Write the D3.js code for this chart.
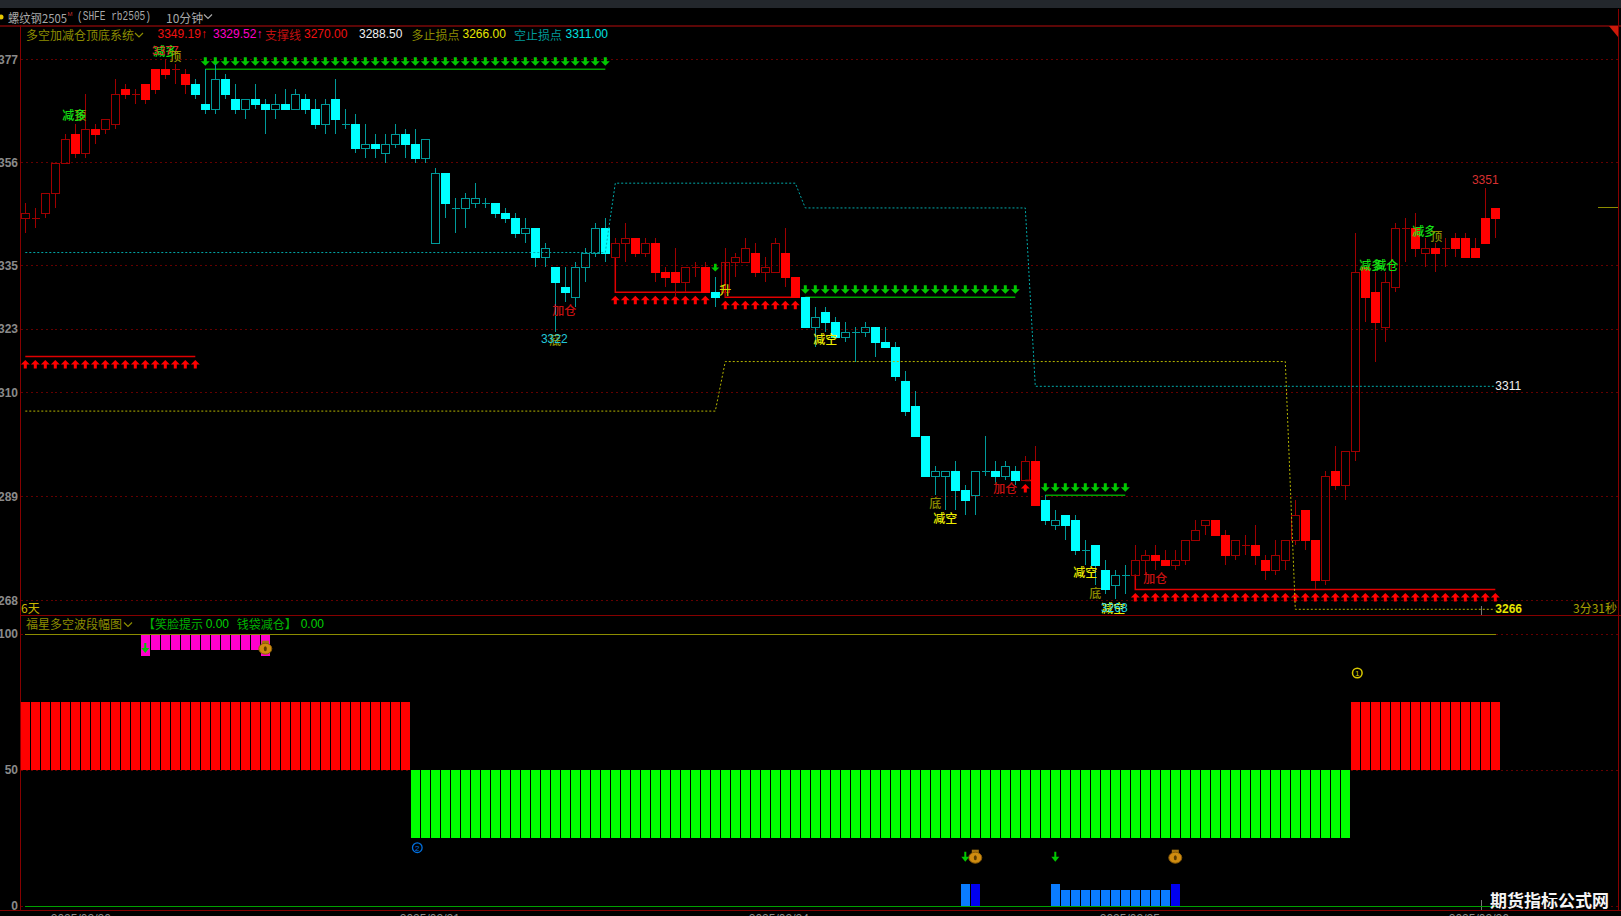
<!DOCTYPE html>
<html lang="zh">
<head>
<meta charset="utf-8">
<title>螺纹钢2505 10分钟</title>
<script src="https://cdn.jsdelivr.net/npm/d3@7/dist/d3.min.js"></script>
<style>
html,body{margin:0;padding:0;background:#000;overflow:hidden}
svg{display:block}
text{font-family:"Noto Sans CJK SC","Liberation Sans",sans-serif}
.num{font-family:"Liberation Sans",Arial,sans-serif}
</style>
</head>
<body>
<svg id="c" width="1621" height="916"></svg>
<script>
// ---------- candle data (10-minute bars) ----------
const opens=[3345,3345,3346,3350,3356,3362,3358,3363,3363,3364,3371,3370,3372,3375,3375,3375,3374,3372,3368,3367,
3373,3369,3367,3369,3368,3367,3368,3367,3369,3367,3364,3369,3364,3364,3359,3360,3358,3360,3362,3360,
3357,3340,3354,3347,3347,3348,3348,3348,3346,3345,3342,3343,3337,3335,3331,3329,3335,3338,3343,3337,
3340,3341,3338,3340,3334,3334,3332,3335,3335,3330,3330,3336,3336,3338,3334,3334,3338,3333,3329,3323,
3326,3324,3321,3322,3322,3323,3320,3319,3312,3307,3301,3293,3293,3294,3290,3289,3294,3294,3293,3294,
3292,3296,3288,3283,3285,3284,3278,3279,3274,3271,3273,3273,3276,3277,3276,3275,3276,3280,3283,3284,
3281,3277,3279,3279,3276,3274,3276,3280,3286,3280,3272,3294,3291,3298,3335,3330,3323,3331,3343,3343,
3338,3339,3339,3341,3341,3339,3345,3347];
const highs=[3348,3347,3350,3356,3362,3364,3370,3364,3365,3373,3372,3371,3372,3375,3377,3376,3375,3373,3375,3376,
3374,3372,3369,3372,3369,3370,3371,3371,3370,3369,3369,3373,3367,3366,3364,3362,3362,3364,3363,3363,
3361,3355,3354,3349,3350,3352,3349,3348,3347,3346,3345,3343,3340,3335,3335,3336,3339,3344,3345,3341,
3344,3341,3341,3341,3335,3339,3335,3336,3336,3333,3339,3338,3341,3340,3337,3341,3343,3333,3329,3327,
3327,3325,3324,3323,3324,3323,3323,3320,3314,3310,3301,3295,3294,3296,3291,3294,3301,3296,3296,3295,
3297,3299,3289,3286,3285,3285,3280,3279,3276,3274,3275,3279,3278,3279,3278,3278,3280,3284,3284,3284,
3282,3280,3281,3283,3277,3280,3280,3288,3286,3280,3294,3299,3298,3342,3335,3334,3334,3344,3345,3346,
3341,3340,3341,3342,3342,3341,3351,3347];
const lows=[3342,3343,3345,3347,3356,3357,3357,3360,3362,3363,3369,3368,3368,3370,3373,3372,3370,3369,3366,3366,
3369,3366,3365,3367,3362,3365,3367,3367,3366,3363,3362,3362,3363,3358,3357,3357,3356,3359,3357,3356,
3356,3340,3345,3342,3343,3347,3347,3345,3344,3341,3340,3335,3335,3322,3328,3327,3332,3337,3336,3337,
3336,3337,3337,3332,3331,3329,3330,3333,3330,3327,3329,3333,3336,3333,3332,3334,3331,3329,3323,3319,
3322,3321,3320,3316,3321,3317,3319,3312,3305,3301,3293,3289,3286,3286,3285,3285,3293,3291,3292,3291,
3292,3287,3283,3282,3280,3277,3275,3271,3269,3268,3269,3273,3273,3274,3275,3274,3275,3280,3281,3281,
3275,3276,3277,3275,3272,3273,3274,3279,3278,3270,3271,3290,3288,3296,3324,3316,3320,3330,3336,3337,
3335,3334,3335,3337,3337,3337,3340,3341];
const closes=[3346,3345,3350,3356,3361,3358,3363,3362,3365,3370,3370,3370,3369,3371,3374,3375,3372,3370,3367,3373,
3370,3367,3369,3368,3367,3368,3367,3370,3367,3364,3368,3365,3364,3359,3360,3359,3360,3362,3360,3357,
3361,3354,3348,3347,3349,3349,3348,3346,3345,3342,3343,3337,3339,3332,3330,3335,3338,3343,3338,3340,
3341,3338,3340,3334,3333,3332,3335,3335,3330,3329,3336,3337,3339,3334,3335,3340,3333,3329,3323,3325,
3324,3321,3322,3322,3323,3320,3319,3313,3306,3301,3293,3294,3294,3290,3288,3294,3294,3293,3295,3292,
3296,3287,3284,3284,3283,3278,3278,3275,3270,3273,3273,3276,3277,3276,3275,3276,3280,3282,3284,3281,
3277,3280,3279,3277,3274,3277,3280,3285,3280,3272,3293,3291,3298,3334,3329,3324,3332,3343,3343,3339,
3339,3338,3339,3339,3337,3337,3340,3345];
// Candle state runs: [first index, last index, "long" or "short"]
const candleStates=[[0,16,"long"],[17,58,"short"],[59,68,"long"],[69,69,"short"],[70,77,"long"],[78,99,"short"],[100,101,"long"],[102,110,"short"],[111,147,"long"]];

// ---------- price-panel overlays ----------
const priceTicks=[3377,3356.2,3335.4,3322.6,3309.8,3288.8,3267.8];
const priceTickLabels=["3377","3356","3335","3323","3310","3289","3268"];
const shortStop=[[0,3338],[58,3338],[59,3352],[77,3352],[78,3347],[100,3347],[101,3311],[147,3311]];
const longStop=[[0,3306],[69,3306],[70,3316],[126,3316],[127,3266],[147,3266]];
// [first index, last index, level, price the line drops from]
const supportRuns=[[0,17,3317,3317],[59,68,3330,3337],[70,77,3329,3336],[100,101,3292,3292],[111,147,3270,3273]];
const resistRuns=[[18,58,3375],[78,99,3329],[102,110,3289]];
// [text, index, price, colour, class]
const annotations=[
 ["顶",5.5,3365.8,"#8c8c00"],["减多",4.9,3365.8,"#14e014"],
 ["减多",14,3378.7,"#14e014"],["3377",14,3378.7,"#e02b2b","num"],["顶",15,3377.7,"#9a9a00"],
 ["加仓",53.9,3326.5,"#c81010"],["底",53,3320.5,"#8c8c00"],["3322",52.9,3320.5,"#22c8d8","num"],
 ["升",70,3330.6,"#d8d800"],["减空",80,3320.7,"#eeee00"],
 ["底",91,3287.5,"#8c8c00"],["减空",92,3284.6,"#eeee00"],["加仓",98,3290.5,"#c81010"],
 ["减空",106,3273.6,"#eeee00"],["底",107,3269.4,"#8c8c00"],["减空",108.8,3266.3,"#eeee00"],["3268",108.9,3266.3,"#22d8e8","num"],
 ["加仓",113,3272.5,"#c81010"],
 ["减多",134.6,3335.6,"#14e014"],["减仓",136.1,3335.6,"#14e014"],
 ["减多",139.9,3342.5,"#14e014"],["顶",141.1,3341.5,"#8c8c00"],
 ["3351",146,3352.7,"#d83030","num"]
];

// ---------- lower-panel data ----------
const swingValues=[75,25,75];
const swingRuns=[[0,38],[39,132],[133,147]];
const magentaIdx=[12,13,14,15,16,17,18,19,20,21,22,23,24];
const magentaLows=[92,94,94,94,94,94,94,94,94,94,94,94,92];
const blueTallIdx=[94,95,103,115];
const blueTallDark=[95,115];
const blueShortIdx=[104,105,106,107,108,109,110,111,112,113,114];
const blueTall=8, blueShort=6;
const bagIdx=[24,95,115];
const dateIdx=[5.5,40.4,75.3,110.4,145.3];
const dateLabels=["2025/02/20","2025/02/21","2025/02/24","2025/02/25","2025/02/26"];

// ---------- scales ----------
const x=d3.scaleLinear().domain([0,147]).range([25.3,1495.3]);
const y=d3.scaleLinear().domain([3266,3377]).range([609.3,59.3]);
const y2=d3.scaleLinear().domain([0,100]).range([906,634]);
const svg=d3.select("#c");
const snap=v=>Math.round(v)+0.5;
const barX=i=>Math.round(x(i))-4;
const stateOf=i=>candleStates.find(s=>i>=s[0]&&i<=s[1])[2];

// background frames
svg.append("rect").attr("width",1621).attr("height",916).attr("fill","#000");
svg.append("rect").attr("width",1621).attr("height",8).attr("fill","#23272c");
const frame=svg.append("g").attr("shape-rendering","crispEdges");
frame.append("line").attr("x1",0).attr("x2",1621).attr("y1",25.5).attr("y2",25.5).attr("stroke","#5c0606").attr("stroke-width",2);
frame.append("line").attr("x1",20.5).attr("x2",20.5).attr("y1",25).attr("y2",911).attr("stroke","#860000");
frame.append("line").attr("x1",1618.5).attr("x2",1618.5).attr("y1",9).attr("y2",911).attr("stroke","#860000");
frame.append("line").attr("x1",20).attr("x2",1621).attr("y1",615.5).attr("y2",615.5).attr("stroke","#860000");
frame.append("line").attr("x1",0).attr("x2",1621).attr("y1",910.5).attr("y2",910.5).attr("stroke","#860000");
svg.append("path").attr("d","M1609,26L1618,26L1618,37Z").attr("fill","#cc1a0a");

// price axis + grid
const gy=svg.append("g").attr("transform","translate(20.5,0)").call(
  d3.axisLeft(y).tickValues(priceTicks).tickFormat((d,i)=>priceTickLabels[i]).tickSize(-1598).tickPadding(2.5));
gy.select(".domain").remove();
gy.selectAll("line").attr("stroke","#640000").attr("stroke-dasharray","2 3").attr("shape-rendering","crispEdges");
gy.selectAll("text").attr("class","num").attr("fill","#8a8a8a").attr("font-size",12).attr("font-weight","bold").style("font-family","'Liberation Sans',Arial,sans-serif");

// lower axis
const gy2=svg.append("g").attr("transform","translate(20.5,0)").call(
  d3.axisLeft(y2).tickValues([0,50,100]).tickSize(-1598).tickPadding(2.5));
gy2.select(".domain").remove();
gy2.selectAll("line").attr("stroke","#640000").attr("stroke-dasharray","2 3").attr("shape-rendering","crispEdges");
gy2.selectAll("text").attr("fill","#8a8a8a").attr("font-size",12).attr("font-weight","bold").style("font-family","'Liberation Sans',Arial,sans-serif");

// date axis
const gx=svg.append("g").attr("transform","translate(0,911)").call(
  d3.axisBottom(x).tickValues(dateIdx).tickFormat((d,i)=>dateLabels[i]).tickSize(0).tickPadding(3));
gx.select(".domain").remove();
gx.selectAll("text").attr("fill","#8a8a8a").attr("font-size",12).style("font-family","'Liberation Sans',Arial,sans-serif");

// support / resistance lines with arrows
const upArrow="M0,-4.5L4.5,0L1.5,0L1.5,4L-1.5,4L-1.5,0L-4.5,0Z";
const downArrow="M0,4.5L4.5,0L1.5,0L1.5,-4L-1.5,-4L-1.5,0L-4.5,0Z";
const levels=svg.append("g");
supportRuns.forEach(([a,b,lvl,from])=>{
  levels.append("path").attr("fill","none").attr("stroke","#e00000").attr("stroke-width",1.5)
    .attr("d",d3.line()([[x(a),y(from)],[x(a),y(lvl)],[x(b),y(lvl)]]));
  levels.append("g").selectAll("path").data(d3.range(a,b+1)).join("path")
    .attr("d",upArrow).attr("fill","#ff0000")
    .attr("transform",i=>`translate(${x(i)},${y(lvl)+8})`);
});
resistRuns.forEach(([a,b,lvl])=>{
  levels.append("path").attr("fill","none").attr("stroke","#00a000").attr("stroke-width",1.5)
    .attr("d",d3.line()([[x(a),y(lvl)],[x(b),y(lvl)]]));
  levels.append("g").selectAll("path").data(d3.range(a,b+1)).join("path")
    .attr("d",downArrow).attr("fill","#00c800")
    .attr("transform",i=>`translate(${x(i)},${y(lvl)-8})`);
});
// lone arrow on the short-side bar
levels.append("path").attr("d",downArrow).attr("fill","#00c800").attr("transform",`translate(${x(69)},${y(3335)}) scale(.9)`);

// candles
const ci=d3.range(opens.length);
const cg=svg.append("g").attr("shape-rendering","crispEdges");
const colours={long:{fill:"#ff0000",line:"#a00000"},short:{fill:"#00ffff",line:"#009a9a"}};
ci.forEach(i=>{
  const s=stateOf(i),col=colours[s];
  const top=Math.max(opens[i],closes[i]),bot=Math.min(opens[i],closes[i]);
  const cx=Math.round(x(i))+0.5;
  const yT=snap(y(top)),yB=snap(y(bot));
  const down=closes[i]<opens[i];
  cg.append("line").attr("x1",cx).attr("x2",cx).attr("y1",y(highs[i])).attr("y2",yT).attr("stroke",col.line);
  cg.append("line").attr("x1",cx).attr("x2",cx).attr("y1",yB).attr("y2",y(lows[i])).attr("stroke",col.line);
  if(top===bot){
    cg.append("line").attr("x1",cx-4).attr("x2",cx+4).attr("y1",yT).attr("y2",yT).attr("stroke",col.line);
  }else if(down){
    cg.append("rect").attr("x",cx-4.5).attr("y",yT-0.5).attr("width",9).attr("height",yB-yT+1).attr("fill",col.fill);
  }else{
    cg.append("rect").attr("x",cx-4).attr("y",yT).attr("width",8).attr("height",yB-yT).attr("fill","none").attr("stroke",col.line);
  }
});

// stop lines (dotted)
const stepLine=d3.line().x(d=>x(d[0])).y(d=>y(d[1]));
svg.append("path").attr("d",stepLine(shortStop)).attr("fill","none").attr("stroke","#00a8a8").attr("stroke-dasharray","2 2");
svg.append("path").attr("d",stepLine(longStop)).attr("fill","none").attr("stroke","#b4b400").attr("stroke-dasharray","2 2");

// annotations
svg.append("g").selectAll("text").data(annotations).join("text")
  .attr("class",d=>d[4]||null)
  .attr("x",d=>x(d[1])).attr("y",d=>y(d[2])).attr("text-anchor","middle").attr("dominant-baseline","central")
  .attr("font-size",12).attr("font-weight",d=>d[4]?400:500).attr("fill",d=>d[3]).text(d=>d[0]);
svg.append("text").attr("class","num").attr("x",x(147)).attr("y",y(3311)).attr("dominant-baseline","central").attr("font-size",12).attr("fill","#f0f0f0").text("3311");
svg.append("text").attr("class","num").attr("x",x(147)).attr("y",y(3266)).attr("dominant-baseline","central").attr("font-size",12).attr("font-weight","bold").attr("fill","#e6e600").text("3266");

// right-edge marks
const marks=svg.append("g").attr("shape-rendering","crispEdges");
marks.append("line").attr("x1",1598).attr("x2",1618).attr("y1",207.5).attr("y2",207.5).attr("stroke","#8c8c00");
marks.append("line").attr("x1",1481.5).attr("x2",1481.5).attr("y1",606).attr("y2",615).attr("stroke","#777");
marks.append("line").attr("x1",1481.5).attr("x2",1481.5).attr("y1",900).attr("y2",910).attr("stroke","#777");

// lower panel bars
const bars=svg.append("g").attr("shape-rendering","crispEdges");
swingRuns.forEach((r,k)=>{
  const v=swingValues[k];
  bars.append("g").selectAll("rect").data(d3.range(r[0],r[1]+1)).join("rect")
    .attr("x",barX).attr("width",9)
    .attr("y",y2(Math.max(v,50))).attr("height",Math.abs(y2(v)-y2(50)))
    .attr("fill",v>50?"#ff0000":"#00ff00");
});
bars.append("g").selectAll("rect").data(magentaIdx).join("rect")
  .attr("x",barX).attr("width",9).attr("y",y2(100))
  .attr("height",(i,k)=>y2(magentaLows[k])-y2(100))
  .attr("fill","#ff00cc");
bars.append("g").selectAll("rect").data(blueTallIdx).join("rect")
  .attr("x",barX).attr("width",9).attr("y",y2(blueTall)).attr("height",y2(0)-y2(blueTall))
  .attr("fill",i=>blueTallDark.includes(i)?"#0000f0":"#0a7cff");
bars.append("g").selectAll("rect").data(blueShortIdx).join("rect")
  .attr("x",barX).attr("width",9).attr("y",y2(blueShort)).attr("height",y2(0)-y2(blueShort))
  .attr("fill","#0a7cff");
bars.append("line").attr("x1",25).attr("x2",1496).attr("y1",y2(100)+0.5).attr("y2",y2(100)+0.5).attr("stroke","#8c8c00");
bars.append("line").attr("x1",25).attr("x2",1496).attr("y1",y2(0)+0.5).attr("y2",y2(0)+0.5).attr("stroke","#00a000");

// lower panel icons
const bag=(i,yy)=>{
  const g=svg.append("g").attr("transform",`translate(${x(i)},${yy})`);
  g.append("rect").attr("x",-3.5).attr("y",-8).attr("width",7).attr("height",4).attr("fill","#a87410");
  g.append("ellipse").attr("rx",6.5).attr("ry",5.5).attr("fill","#d08c10").attr("stroke","#8a5c08");
  g.append("ellipse").attr("rx",1.5).attr("ry",2.5).attr("fill","#5a3a00");
};
bag(bagIdx[0],648.7);bag(bagIdx[1],857.7);bag(bagIdx[2],857.7);
[[94,856.7],[103,856.7],[12,648]].forEach(([i,yy])=>{
  svg.append("path").attr("d","M0,5L4,0L1,0L1,-5L-1,-5L-1,0L-4,0Z").attr("fill","#00c800").attr("transform",`translate(${x(i)},${yy})`);
});
svg.append("circle").attr("cx",x(39.2)).attr("cy",847.7).attr("r",4.8).attr("fill","none").attr("stroke","#0070e0").attr("stroke-width",1.3);
svg.append("text").attr("class","num").attr("x",x(39.2)).attr("y",848).attr("text-anchor","middle").attr("dominant-baseline","central").attr("font-size",8).attr("fill","#0070e0").text("2");
svg.append("circle").attr("cx",x(133.2)).attr("cy",673).attr("r",4.8).attr("fill","none").attr("stroke","#d8c800").attr("stroke-width",1.5);
svg.append("text").attr("class","num").attr("x",x(133.2)).attr("y",673.3).attr("text-anchor","middle").attr("dominant-baseline","central").attr("font-size",8).attr("fill","#d8c800").text("1");

// header text
const hdr=(t,xx,yy,fill,opts={})=>{
  const el=svg.append("text").attr("x",xx).attr("y",yy).attr("dominant-baseline","central").attr("font-size",opts.size||12).attr("fill",fill).text(t);
  if(opts.num) el.attr("class","num");
  if(opts.mono) el.style("font-family","'Liberation Mono',monospace");
  if(opts.len) el.attr("textLength",opts.len).attr("lengthAdjust","spacingAndGlyphs");
  if(opts.bold) el.attr("font-weight","bold");
  return el;
};
const chevron=(xx,yy,c)=>svg.append("path").attr("d",`M${xx},${yy-2}L${xx+4},${yy+2}L${xx+8},${yy-2}`).attr("fill","none").attr("stroke",c).attr("stroke-width",1.2);
svg.append("circle").attr("cx",1).attr("cy",17).attr("r",2.5).attr("fill","#e6c800");
hdr("螺纹钢2505",8,17,"#a8a8a8",{len:59});
hdr("M",67.5,14,"#c03030",{size:6,num:true});
hdr("(SHFE rb2505)",77,17,"#a8a8a8",{mono:true,size:12,len:74});
hdr("10分钟",166,17,"#a8a8a8");
chevron(204,16.5,"#a8a8a8");
hdr("多空加减仓顶底系统",26,34,"#8c8c00");
chevron(135,35,"#8c8c00");
hdr("3349.19↑",157.5,34,"#f01010",{num:true});
hdr("3329.52↑",213,34,"#ff00c8",{num:true});
hdr("支撑线",265,34,"#c01010");
hdr("3270.00",304,34,"#f01010",{num:true});
hdr("3288.50",359,34,"#f0f0f0",{num:true});
hdr("多止损点",411.5,34,"#8c8c00");
hdr("3266.00",462.5,34,"#e6e600",{num:true});
hdr("空止损点",514,34,"#009a9a");
hdr("3311.00",565.5,34,"#00e0e0",{num:true});
hdr("6天",21,607,"#c8b400");
hdr("3分31秒",1573,607,"#a8a000");
hdr("福星多空波段幅图",26,623.7,"#8c8c00");
chevron(124,624.5,"#8c8c00");
hdr("【笑脸提示",143,623.7,"#00b000");
hdr("0.00",205.7,623.7,"#00d000",{num:true});
hdr("钱袋减仓】",236.7,623.7,"#00b000");
hdr("0.00",300.7,623.7,"#00d000",{num:true});

// watermark
svg.append("text").attr("x",1490).attr("y",899).attr("dominant-baseline","central").attr("font-size",17).attr("font-weight",700).attr("fill","#f4f4f4").text("期货指标公式网");
</script>
</body>
</html>
